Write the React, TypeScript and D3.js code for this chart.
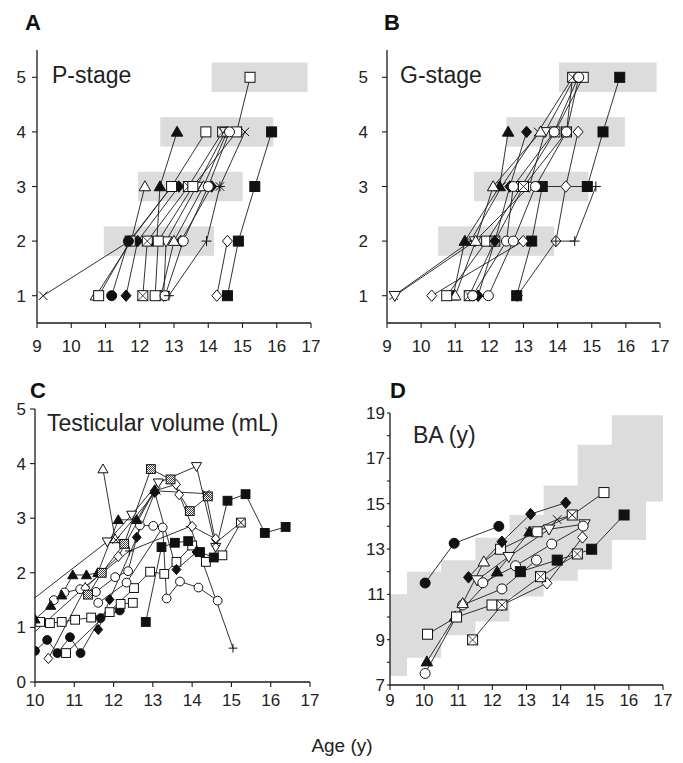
import React from 'react';
import * as d3 from 'd3';

type Pt = [number, number];
type Series = { sym: string; pts: Pt[] };

const FONT = '"Liberation Sans", Arial, Helvetica, sans-serif';
const INK = '#1a1a1a';
const BAND = '#dcdcdc';

// ---------- ticks ----------
const ageTicksAB = [9, 10, 11, 12, 13, 14, 15, 16, 17];
const stageTicks = [1, 2, 3, 4, 5];
const ageTicksC = [10, 11, 12, 13, 14, 15, 16, 17];
const volumeTicks = [0, 1, 2, 3, 4, 5];
const ageTicksD = [9, 10, 11, 12, 13, 14, 15, 16, 17];
const boneAgeTicks = [7, 8, 9, 10, 11, 12, 13, 14, 15, 16, 17, 18, 19];
const boneAgeLabels = [7, 9, 11, 13, 15, 17, 19];

// ---------- reference bands ----------
// [stage, age from, age to]
const pStageBands: [number, number, number][] = [
  [2, 10.95, 14.17], [3, 11.95, 15.0], [4, 12.6, 15.9], [5, 14.1, 16.9],
];
const gStageBands: [number, number, number][] = [
  [2, 10.5, 13.9], [3, 11.55, 14.9], [4, 12.5, 15.97], [5, 14.04, 16.9],
];
const boneAgeBandEdges = [9, 9.5, 10.5, 11.5, 12.5, 13.5, 14.5, 15.5, 16.5, 17];
const boneAgeBandUpper = [11.0, 12.0, 12.5, 13.5, 14.5, 15.8, 17.6, 18.9, 18.9];
const boneAgeBandLower = [7.4, 8.2, 9.2, 9.8, 10.9, 11.6, 12.1, 13.4, 15.1];

// ---------- A: P-stage ----------
const pStageSeries: Series[] = [
  { sym: 'fs', pts: [[14.56, 1], [14.88, 2], [15.36, 3], [15.85, 4]] },
  { sym: 'od', pts: [[14.25, 1], [14.56, 2]] },
  { sym: 'x', pts: [[9.18, 1], [11.7, 2], [12.93, 3]] },
  { sym: 'ot', pts: [[10.72, 1], [11.75, 2], [12.15, 3]] },
  { sym: 'fd', pts: [[13.2, 2], [14.1, 3]] },
  { sym: 'fd', pts: [[11.6, 1], [11.94, 2], [13.14, 3]] },
  { sym: 'os', pts: [[10.8, 1], [11.72, 2], [12.93, 3], [13.93, 4]] },
  { sym: 'fc', pts: [[11.18, 1], [11.67, 2]] },
  { sym: 'xs', pts: [[12.09, 1], [12.22, 2], [13.42, 3], [14.42, 4]] },
  { sym: 'ft', pts: [[12.5, 2], [12.59, 3], [13.09, 4]] },
  { sym: 'ov', pts: [[12.7, 1], [12.77, 2], [13.66, 3], [14.5, 4]] },
  { sym: 'ot', pts: [[12.62, 1], [13.0, 2], [13.86, 3], [14.55, 4]] },
  { sym: 'os', pts: [[12.45, 1], [12.54, 2], [13.55, 3], [14.83, 4], [15.22, 5]] },
  { sym: 'oc', pts: [[12.74, 1], [13.27, 2], [14.0, 3], [14.62, 4]] },
  { sym: 'x', pts: [[14.34, 3], [15.07, 4]] },
  { sym: 'p', pts: [[12.85, 1], [13.95, 2], [14.34, 3]] },
];

// ---------- B: G-stage ----------
const gStageSeries: Series[] = [
  { sym: 'od', pts: [[12.82, 1], [13.95, 2], [14.24, 3], [14.6, 4]] },
  { sym: 'fs', pts: [[12.8, 1], [13.24, 2], [13.55, 3], [14.87, 3], [15.33, 4], [15.82, 5]] },
  { sym: 'p', pts: [[13.95, 2], [14.5, 2], [15.12, 3]] },
  { sym: 'x', pts: [[9.2, 1], [11.45, 2], [12.36, 3], [13.43, 4], [14.44, 5]] },
  { sym: 'ov', pts: [[9.23, 1], [11.58, 2], [13.17, 3], [13.63, 4], [14.5, 5]] },
  { sym: 'od', pts: [[10.31, 1], [12.99, 2]] },
  { sym: 'ft', pts: [[10.94, 1], [11.28, 2], [12.3, 3], [12.55, 4]] },
  { sym: 'ot', pts: [[11.0, 1], [11.6, 2], [12.11, 3], [13.5, 4]] },
  { sym: 'os', pts: [[10.75, 1], [11.92, 2], [12.94, 3], [13.92, 4], [14.75, 5]] },
  { sym: 'xs', pts: [[11.41, 1], [12.16, 2], [13.0, 3], [14.26, 4], [14.44, 5]] },
  { sym: 'fd', pts: [[11.67, 1], [12.16, 2], [12.6, 3], [13.09, 4]] },
  { sym: 'oc', pts: [[11.51, 1], [12.5, 2], [12.7, 3], [13.9, 4], [14.6, 5]] },
  { sym: 'oc', pts: [[11.97, 1], [12.7, 2], [13.35, 3], [14.26, 4], [14.62, 5]] },
];

// ---------- C: testicular volume ----------
const volumeSeries: Series[] = [
  { sym: 'p', pts: [[9.5, 0.6], [11.28, 1.75], [12.4, 2.4], [13.95, 2.85], [15.04, 0.62]] },
  { sym: 'ov', pts: [[9.2, 1.1], [11.84, 2.57], [12.46, 3.06], [13.14, 3.65], [14.11, 3.95], [14.6, 2.47]] },
  { sym: 'fc', pts: [[10.0, 0.57], [10.31, 0.77], [10.57, 0.53], [10.89, 0.82], [11.16, 0.53], [11.67, 1.17], [12.16, 1.31]] },
  { sym: 'os', pts: [[10.13, 1.1], [10.38, 1.08], [10.68, 1.1], [11.02, 1.14], [11.43, 1.18], [11.9, 1.28], [12.18, 1.43], [12.49, 1.45]] },
  { sym: 'os', pts: [[10.79, 0.53], [12.52, 1.72], [12.93, 2.02], [13.29, 1.98], [13.6, 2.2], [14.0, 2.5], [14.35, 2.2], [14.77, 2.32], [15.24, 2.92]] },
  { sym: 'oc', pts: [[10.48, 1.5], [10.75, 1.64], [11.15, 1.7], [11.55, 1.65], [12.04, 1.92], [12.37, 2.03], [12.67, 2.87], [13.01, 2.86]] },
  { sym: 'oc', pts: [[11.61, 1.45], [12.33, 1.82], [13.25, 2.83], [13.35, 1.53], [13.69, 1.84], [14.16, 1.73], [14.65, 1.49]] },
  { sym: 'od', pts: [[10.34, 0.43], [11.28, 1.72], [12.12, 2.3], [13.04, 3.5], [13.59, 3.62], [13.67, 3.43], [14.0, 2.85], [14.6, 2.62]] },
  { sym: 'fd', pts: [[11.61, 0.96], [11.9, 1.51], [12.59, 2.65], [13.05, 3.47], [13.6, 2.06], [14.11, 2.38]] },
  { sym: 'ft', pts: [[10.0, 1.15], [10.4, 1.4], [10.68, 1.59], [10.96, 1.96], [11.31, 1.96], [11.6, 2.0], [12.12, 2.97], [12.59, 2.97], [13.05, 3.52]] },
  { sym: 'hs', pts: [[11.35, 1.6], [11.7, 2.0], [12.27, 2.53], [12.95, 3.9], [13.45, 3.71], [13.94, 3.13], [14.4, 3.4]] },
  { sym: 'ot', pts: [[11.73, 3.9], [12.04, 2.62]] },
  { sym: 'x', pts: [[12.06, 2.6], [13.1, 3.5], [14.35, 3.45], [14.6, 2.55], [15.24, 2.92]] },
  { sym: 'fs', pts: [[12.82, 1.1], [13.22, 2.47], [13.56, 2.55], [13.9, 2.58], [14.2, 2.38], [14.55, 2.28], [14.9, 3.32], [15.36, 3.44], [15.85, 2.73], [16.38, 2.84]] },
];

// ---------- D: bone age ----------
const boneAgeSeries: Series[] = [
  { sym: 'fc', pts: [[10.03, 11.5], [10.88, 13.25], [12.19, 14.0]] },
  { sym: 'ft', pts: [[10.08, 8.03], [10.91, 10.01], [12.14, 12.0], [13.09, 13.76]] },
  { sym: 'oc', pts: [[10.03, 7.51], [11.13, 10.53], [12.28, 11.24], [13.29, 12.51]] },
  { sym: 'os', pts: [[10.1, 9.24], [10.95, 10.0], [11.99, 10.53]] },
  { sym: 'od', pts: [[12.28, 10.53], [13.6, 11.49], [14.64, 13.51]] },
  { sym: 'xs', pts: [[11.42, 8.99], [12.28, 10.53], [13.41, 11.78], [14.49, 12.78]] },
  { sym: 'ot', pts: [[11.13, 10.6], [11.75, 12.44], [12.24, 12.99]] },
  { sym: 'os', pts: [[12.24, 12.99], [13.31, 13.76], [14.34, 14.5], [15.27, 15.49]] },
  { sym: 'x', pts: [[13.09, 13.76], [13.9, 14.3], [14.34, 14.5]] },
  { sym: 'fd', pts: [[11.3, 11.75], [12.28, 13.32], [13.12, 14.54], [14.15, 15.04]] },
  { sym: 'ov', pts: [[11.55, 11.63], [12.48, 12.66], [13.66, 13.87], [14.7, 14.1]] },
  { sym: 'oc', pts: [[11.72, 11.51], [12.68, 12.26], [13.74, 13.22], [14.66, 14.01]] },
  { sym: 'fs', pts: [[12.82, 12.0], [13.9, 12.51], [14.91, 12.99], [15.86, 14.5]] },
];

// ---------- markers ----------
function Marker({ x, y, sym, r }: { x: number; y: number; sym: string; r: number }) {
  const sw = 1;
  const black = '#111';
  const white = '#fff';
  switch (sym) {
    case 'fc':
    case 'oc':
      return <circle cx={x} cy={y} r={r} fill={sym === 'fc' ? black : white} stroke={black} strokeWidth={sw} />;
    case 'fs':
    case 'os':
    case 'hs':
      return (
        <rect x={x - r} y={y - r} width={2 * r} height={2 * r}
          fill={sym === 'fs' ? black : sym === 'hs' ? 'url(#hatch)' : white} stroke={black} strokeWidth={sw} />
      );
    case 'xs':
      return (
        <g>
          <rect x={x - r} y={y - r} width={2 * r} height={2 * r} fill={white} stroke={black} strokeWidth={sw} />
          <path d={`M${x - r},${y - r}L${x + r},${y + r}M${x + r},${y - r}L${x - r},${y + r}`} stroke={black} strokeWidth={0.8} />
        </g>
      );
    case 'fd':
    case 'od': {
      const w = r * 1.0, h = r * 1.15;
      return <path d={`M${x},${y - h}L${x + w},${y}L${x},${y + h}L${x - w},${y}Z`} fill={sym === 'fd' ? black : white} stroke={black} strokeWidth={sw} />;
    }
    case 'ft':
    case 'ot': {
      const w = r * 1.15;
      return <path d={`M${x},${y - r * 1.15}L${x + w},${y + r * 0.85}L${x - w},${y + r * 0.85}Z`} fill={sym === 'ft' ? black : white} stroke={black} strokeWidth={sw} />;
    }
    case 'ov': {
      const w = r * 1.15;
      return <path d={`M${x},${y + r * 1.15}L${x + w},${y - r * 0.85}L${x - w},${y - r * 0.85}Z`} fill={white} stroke={black} strokeWidth={sw} />;
    }
    case 'x': {
      const a = r * 0.85;
      return <path d={`M${x - a},${y - a}L${x + a},${y + a}M${x + a},${y - a}L${x - a},${y + a}`} stroke={black} strokeWidth={1} />;
    }
    case 'p': {
      const a = r;
      return <path d={`M${x - a},${y}L${x + a},${y}M${x},${y - a}L${x},${y + a}`} stroke={black} strokeWidth={1} />;
    }
  }
  return null;
}

// ---------- panel ----------
type PanelProps = {
  id: string;
  x: d3.ScaleLinear<number, number>;
  y: d3.ScaleLinear<number, number>;
  xTicks: number[];
  yTicks: number[];
  yLabels: number[];
  xLabelY: number;
  yLabelX: number;
  yTickLen: number;
  series: Series[];
  r: number;
  children?: React.ReactNode;
};

function Panel(p: PanelProps) {
  const [x0, x1] = p.x.range();
  const [y0, y1] = p.y.range(); // y0 bottom
  const line = d3.line<Pt>().x(d => p.x(d[0])).y(d => p.y(d[1]));
  return (
    <g>
      <defs>
        <clipPath id={`clip-${p.id}`}>
          <rect x={x0} y={y1 - 10} width={x1 - x0 + 10} height={y0 - y1 + 10} />
        </clipPath>
      </defs>
      {p.children}
      <g clipPath={`url(#clip-${p.id})`}>
        {p.series.map((s, i) => (
          <path key={`l${i}`} d={line(s.pts) || ''} fill="none" stroke="#1c1c1c" strokeWidth={0.9} />
        ))}
        {p.series.map((s, i) => (
          <g key={`m${i}`}>
            {s.pts.map((d, j) => (
              <Marker key={j} x={p.x(d[0])} y={p.y(d[1])} sym={s.sym} r={p.r} />
            ))}
          </g>
        ))}
      </g>
      {/* axes */}
      <line x1={x0} x2={x0} y1={y1} y2={y0} stroke={INK} strokeWidth={1.3} />
      <line x1={x0} x2={x1} y1={y0} y2={y0} stroke={INK} strokeWidth={1.3} />
      {p.xTicks.map(t => (
        <g key={`xt${t}`}>
          <line x1={p.x(t)} x2={p.x(t)} y1={y0} y2={y0 + 5} stroke={INK} strokeWidth={1.1} />
          <text x={p.x(t)} y={p.xLabelY} textAnchor="middle" fontSize={17} fontFamily={FONT} fill="#222">{t}</text>
        </g>
      ))}
      {p.yTicks.map(t => (
        <line key={`yt${t}`} x1={x0 - p.yTickLen} x2={x0} y1={p.y(t)} y2={p.y(t)} stroke={INK} strokeWidth={1.1} />
      ))}
      {p.yLabels.map(t => (
        <text key={`yl${t}`} x={p.yLabelX} y={p.y(t) + 6} textAnchor="end" fontSize={17} fontFamily={FONT} fill="#222">{t}</text>
      ))}
    </g>
  );
}

export default function App() {
  const xA = d3.scaleLinear().domain([9, 17]).range([37, 311]);
  const yA = d3.scaleLinear().domain([0.5, 5.5]).range([323, 50]);
  const xB = d3.scaleLinear().domain([9, 17]).range([387, 660]);
  const yB = d3.scaleLinear().domain([0.5, 5.5]).range([323, 50]);
  const xC = d3.scaleLinear().domain([10, 17]).range([35, 310]);
  const yC = d3.scaleLinear().domain([0, 5]).range([682, 409]);
  const xD = d3.scaleLinear().domain([9, 17]).range([390, 663]);
  const yD = d3.scaleLinear().domain([7, 19]).range([685, 413]);

  const bandHalf = 0.27;
  const bands = (bs: [number, number, number][], x: d3.ScaleLinear<number, number>, y: d3.ScaleLinear<number, number>) =>
    bs.map(([s, a, b], i) => (
      <rect key={i} x={x(a)} y={y(s + bandHalf)} width={x(b) - x(a)} height={y(s - bandHalf) - y(s + bandHalf)} fill={BAND} />
    ));

  // stepped bone-age band polygon
  const upperPts: [number, number][] = [];
  const lowerPts: [number, number][] = [];
  boneAgeBandUpper.forEach((v, i) => {
    upperPts.push([boneAgeBandEdges[i], v], [boneAgeBandEdges[i + 1], v]);
  });
  boneAgeBandLower.forEach((v, i) => {
    lowerPts.push([boneAgeBandEdges[i], v], [boneAgeBandEdges[i + 1], v]);
  });
  const poly = [...upperPts, ...lowerPts.reverse()].map(d => `${xD(d[0])},${yD(d[1])}`).join(' ');

  const title = (t: string, x: number, y: number, size = 23) => (
    <text x={x} y={y} fontSize={size} fontFamily={FONT} fill="#222">{t}</text>
  );
  const letter = (t: string, x: number, y: number) => (
    <text x={x} y={y} fontSize={22} fontWeight="bold" fontFamily={FONT} fill="#111">{t}</text>
  );

  return (
    <svg width={683} height={763} style={{ position: 'absolute', left: 0, top: 0, background: '#fff' }}>
      <defs>
        <pattern id="hatch" width={2} height={2} patternUnits="userSpaceOnUse">
          <rect width={2} height={2} fill="#fff" />
          <rect width={1} height={1} fill="#444" />
          <rect x={1} y={1} width={1} height={1} fill="#444" />
        </pattern>
      </defs>
      <rect width={683} height={763} fill="#fff" />

      <Panel id="A" x={xA} y={yA} xTicks={ageTicksAB} yTicks={stageTicks} yLabels={stageTicks}
        xLabelY={352} yLabelX={26} yTickLen={5} series={pStageSeries} r={5}>
        {bands(pStageBands, xA, yA)}
      </Panel>
      <Panel id="B" x={xB} y={yB} xTicks={ageTicksAB} yTicks={stageTicks} yLabels={stageTicks}
        xLabelY={352} yLabelX={368} yTickLen={5} series={gStageSeries} r={5}>
        {bands(gStageBands, xB, yB)}
      </Panel>
      <Panel id="C" x={xC} y={yC} xTicks={ageTicksC} yTicks={volumeTicks} yLabels={volumeTicks}
        xLabelY={706} yLabelX={26} yTickLen={5} series={volumeSeries} r={4.4}>
      </Panel>
      <Panel id="D" x={xD} y={yD} xTicks={ageTicksD} yTicks={boneAgeTicks} yLabels={boneAgeLabels}
        xLabelY={706} yLabelX={385} yTickLen={3} series={boneAgeSeries} r={5}>
        <polygon points={poly} fill={BAND} />
      </Panel>

      {letter('A', 25, 30)}
      {letter('B', 384, 30)}
      {letter('C', 30, 398)}
      {letter('D', 390, 398)}

      {title('P-stage', 52, 83)}
      {title('G-stage', 400, 83)}
      {title('Testicular volume (mL)', 47, 431)}
      {title('BA (y)', 413, 443)}

      <text x={342} y={752} textAnchor="middle" fontSize={19} fontFamily={FONT} fill="#222">Age (y)</text>
    </svg>
  );
}
